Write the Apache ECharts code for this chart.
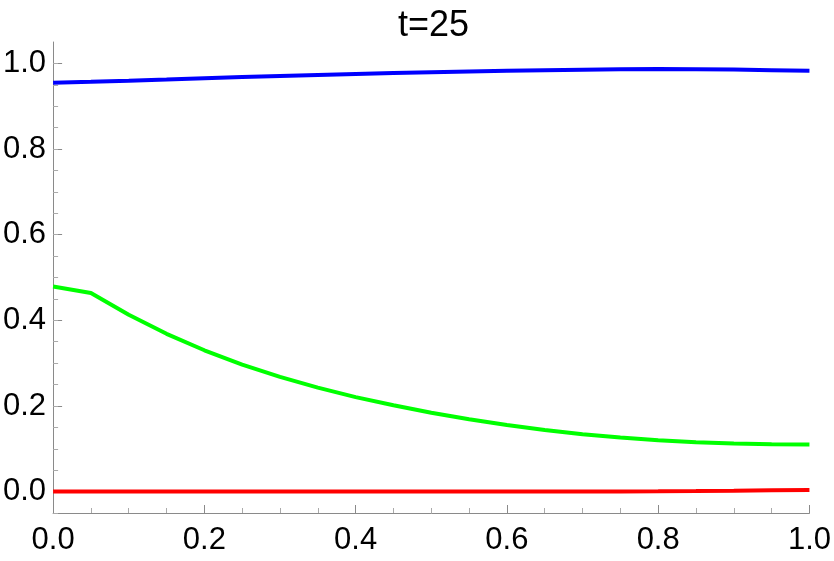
<!DOCTYPE html>
<html>
<head>
<meta charset="utf-8">
<script src="https://cdn.jsdelivr.net/npm/echarts@6/dist/echarts.min.js"></script>
<style>html,body{margin:0;padding:0;background:#fff;}#c{width:834px;height:561px;}</style>
</head>
<body>
<div id="c"></div>
<script>
const titleText = 't=25';
const xs = [0,0.05,0.1,0.15,0.2,0.25,0.3,0.35,0.4,0.45,0.5,0.55,0.6,0.65,0.7,0.75,0.8,0.85,0.9,0.95,1.0];
const blueVals = [0.955,0.957,0.9595,0.9623,0.9652,0.968,0.9707,0.9732,0.9755,0.9776,0.9795,0.9812,0.9827,0.984,0.9851,0.9862,0.9868,0.9866,0.9856,0.9843,0.983];
const greenVals = [0.479,0.464,0.413,0.3685,0.330,0.2967,0.2679,0.2429,0.2207,0.2015,0.1842,0.1688,0.1553,0.1437,0.1340,0.1262,0.1200,0.1155,0.1125,0.1107,0.1100];
const redVals = [0,0,0,0,0,0,0,0,0,0,0,0,0,0,0,0.0002,0.0006,0.0012,0.002,0.003,0.004];
const yMajor = [0,0.2,0.4,0.6,0.8,1.0];
const yMinor = [-0.05,0,0.05,0.1,0.15,0.2,0.25,0.3,0.35,0.4,0.45,0.5,0.55,0.6,0.65,0.7,0.75,0.8,0.85,0.9,0.95,1.0];

const pairs = vals => xs.map((x,i)=>[x, vals[i]]);
const axisGray = '#8a8a8a';
const font = 'Liberation Sans, Arial, sans-serif';

const chart = echarts.init(document.getElementById('c'), null, {renderer:'canvas'});
chart.setOption({
  animation:false,
  backgroundColor:'#fff',
  title:{text:titleText, left:393, top:3, textStyle:{fontFamily:font, fontSize:36, fontWeight:'normal', color:'#000'}},
  grid:{left:52, right:24, top:42, bottom:48, containLabel:false},
  xAxis:{
    type:'value', min:0, max:1, interval:0.2,
    axisLine:{show:true, onZero:false, lineStyle:{color:axisGray, width:1}},
    axisTick:{show:true, inside:true, length:8, lineStyle:{color:axisGray}},
    minorTick:{show:true, splitNumber:4, length:5, lineStyle:{color:'#aaa'}},
    axisLabel:{fontFamily:font, fontSize:31, color:'#000', margin:12, formatter:v=>v.toFixed(1)},
    splitLine:{show:false}
  },
  yAxis:[{
    type:'value', min:-0.05, max:1.05,
    axisLine:{show:true, onZero:false, lineStyle:{color:axisGray, width:1}},
    axisTick:{show:true, inside:true, length:9, customValues:yMajor, lineStyle:{color:axisGray}},
    axisLabel:{fontFamily:font, fontSize:31, color:'#000', margin:7, customValues:yMajor, formatter:v=>v.toFixed(1)},
    splitLine:{show:false}
  },{
    type:'value', min:-0.05, max:1.05, position:'left',
    axisLine:{show:false},
    axisTick:{show:true, inside:true, length:5, customValues:yMinor, lineStyle:{color:'#aaa'}},
    axisLabel:{show:false},
    splitLine:{show:false}
  }],
  series:[
    {type:'line', data:pairs(blueVals), showSymbol:false, lineStyle:{color:'#0000ff', width:4}, z:3},
    {type:'line', data:pairs(greenVals), showSymbol:false, lineStyle:{color:'#00ff00', width:4}, z:3},
    {type:'line', data:pairs(redVals), showSymbol:false, lineStyle:{color:'#ff0000', width:4}, z:3}
  ]
});
</script>
</body>
</html>
